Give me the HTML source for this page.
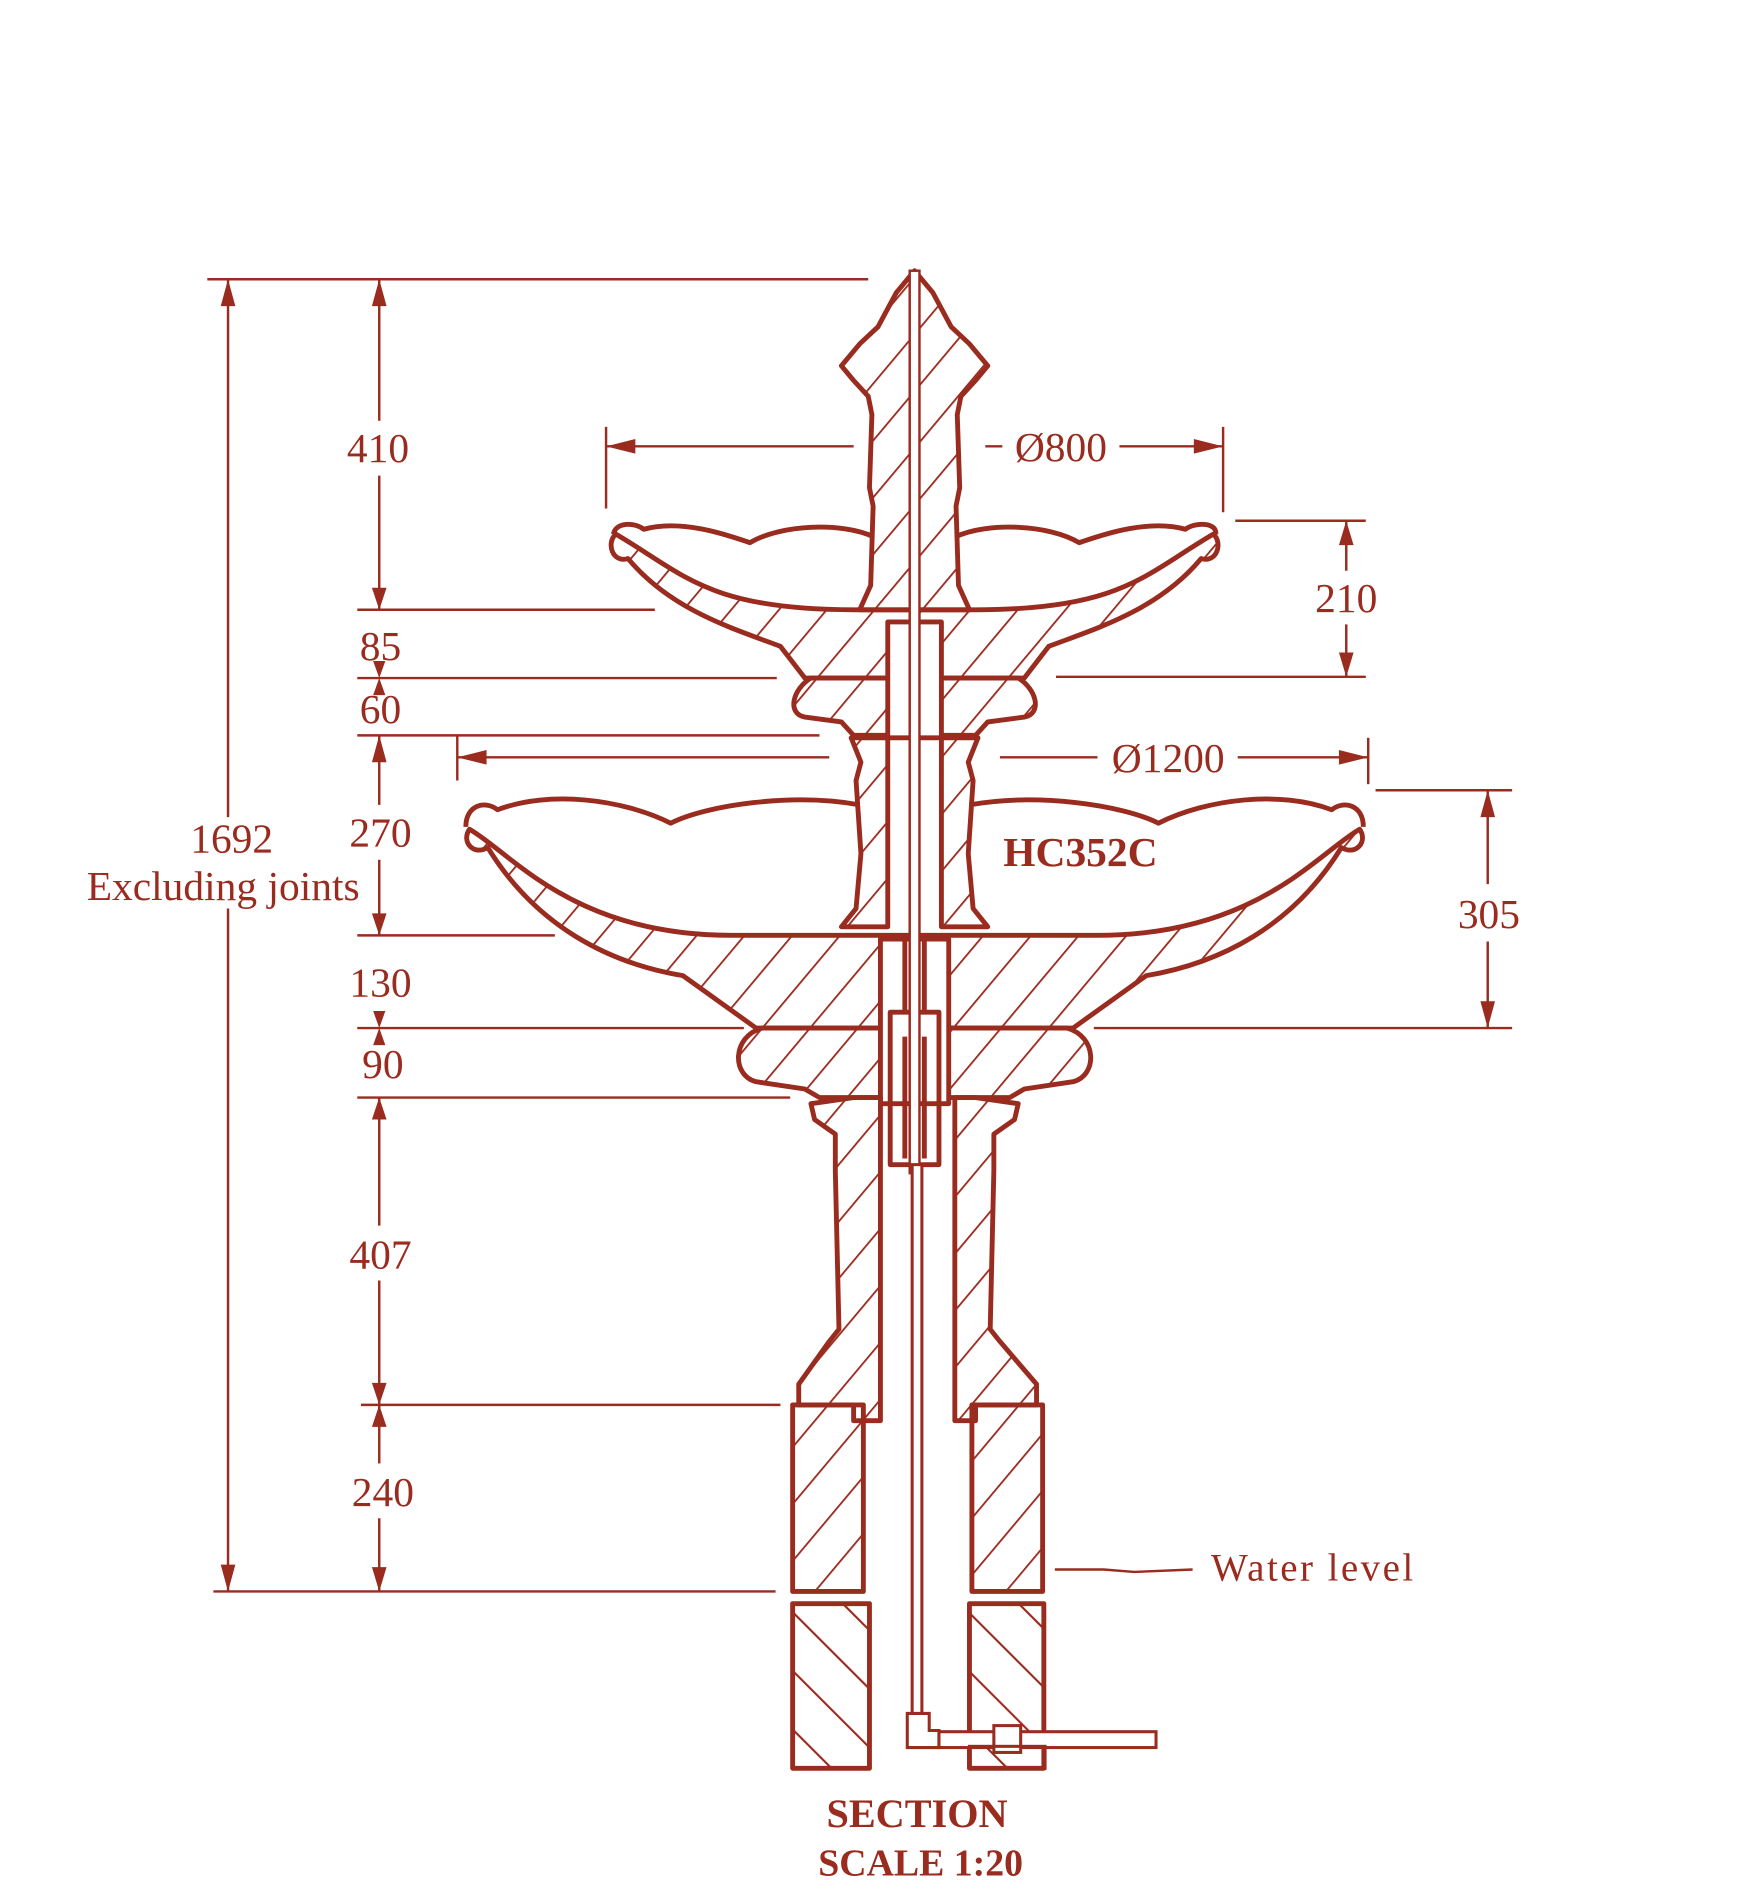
<!DOCTYPE html>
<html><head><meta charset="utf-8"><style>
html,body{margin:0;padding:0;background:#fff}
svg{display:block}
text{font-family:"Liberation Serif",serif;fill:#9a2b1f}
</style></head><body>
<svg width="1756" height="1900" viewBox="0 0 1440 1558" preserveAspectRatio="none" xmlns="http://www.w3.org/2000/svg">
<defs>
<pattern id="h" patternUnits="userSpaceOnUse" width="30" height="30" patternTransform="rotate(40)">
<line x1="0" y1="0" x2="0" y2="30" stroke="#9a2b1f" stroke-width="3"/></pattern>
<pattern id="b" patternUnits="userSpaceOnUse" width="34" height="34" patternTransform="rotate(-45)">
<line x1="0" y1="0" x2="0" y2="34" stroke="#9a2b1f" stroke-width="3.5"/></pattern>
<marker id="a" viewBox="0 0 10 10" refX="10" refY="5" markerWidth="7" markerHeight="7" orient="auto-start-reverse" markerUnits="userSpaceOnUse">
</marker>
</defs>
<g stroke="#9a2b1f" stroke-width="2" fill="none">
<!-- extension lines -->
<line x1="170" y1="229" x2="712" y2="229"/>
<line x1="293" y1="500" x2="537" y2="500"/>
<line x1="293" y1="556" x2="637" y2="556"/>
<line x1="293" y1="603" x2="672" y2="603"/>
<line x1="293" y1="767" x2="455" y2="767"/>
<line x1="293" y1="843" x2="610" y2="843"/>
<line x1="293" y1="900" x2="648" y2="900"/>
<line x1="296" y1="1152" x2="640" y2="1152"/>
<line x1="175" y1="1305" x2="636" y2="1305"/>
<!-- 1692 -->
<line x1="187" y1="229" x2="187" y2="670"/>
<line x1="187" y1="745" x2="187" y2="1305"/>
<!-- col dims -->
<line x1="311" y1="229" x2="311" y2="345"/>
<line x1="311" y1="390" x2="311" y2="500"/>
<line x1="311" y1="603" x2="311" y2="660"/>
<line x1="311" y1="705" x2="311" y2="767"/>
<line x1="311" y1="900" x2="311" y2="1005"/>
<line x1="311" y1="1050" x2="311" y2="1152"/>
<line x1="311" y1="1152" x2="311" y2="1200"/>
<line x1="311" y1="1245" x2="311" y2="1305"/>
<!-- diameters -->
<line x1="497" y1="366" x2="700" y2="366"/>
<line x1="808" y1="366" x2="822" y2="366"/>
<line x1="918" y1="366" x2="1003" y2="366"/>
<line x1="497" y1="350" x2="497" y2="417"/>
<line x1="1003" y1="350" x2="1003" y2="420"/>
<line x1="375" y1="621" x2="680" y2="621"/>
<line x1="820" y1="621" x2="900" y2="621"/>
<line x1="1015" y1="621" x2="1122" y2="621"/>
<line x1="375" y1="603" x2="375" y2="640"/>
<line x1="1122" y1="605" x2="1122" y2="643"/>
<!-- 210 -->
<line x1="1013" y1="427" x2="1120" y2="427"/>
<line x1="866" y1="555" x2="1120" y2="555"/>
<line x1="1104" y1="427" x2="1104" y2="468"/>
<line x1="1104" y1="512" x2="1104" y2="555"/>
<!-- 305 -->
<line x1="1128" y1="648" x2="1240" y2="648"/>
<line x1="897" y1="843" x2="1240" y2="843"/>
<line x1="1220" y1="648" x2="1220" y2="725"/>
<line x1="1220" y1="772" x2="1220" y2="843"/>
<!-- water level -->
<path d="M865,1287 L905,1287 L930,1289 L978,1287"/>
</g>
<g fill="#9a2b1f">
<path d="M187,229 l-6,22 h12z"/><path d="M187,1305 l-6,-22 h12z"/>
<path d="M311,229 l-6,22 h12z"/><path d="M311,500 l-6,-18 h12z"/>
<path d="M311,556 l-5,-14 h10z"/><path d="M311,556 l-5,14 h10z"/>
<path d="M311,603 l-6,22 h12z"/><path d="M311,767 l-6,-18 h12z"/>
<path d="M311,843 l-5,-14 h10z"/><path d="M311,843 l-5,14 h10z"/>
<path d="M311,900 l-6,18 h12z"/><path d="M311,1152 l-6,-18 h12z"/>
<path d="M311,1152 l-6,18 h12z"/><path d="M311,1305 l-6,-20 h12z"/>
<path d="M497,366 l24,-6 v12z"/><path d="M1003,366 l-24,-6 v12z"/>
<path d="M375,621 l24,-6 v12z"/><path d="M1122,621 l-24,-6 v12z"/>
<path d="M1104,427 l-6,20 h12z"/><path d="M1104,555 l-6,-20 h12z"/>
<path d="M1220,648 l-6,22 h12z"/><path d="M1220,843 l-6,-22 h12z"/>
</g>
<g font-size="34" text-anchor="middle">
<text x="310" y="379">410</text>
<text x="312" y="541">85</text>
<text x="312" y="593">60</text>
<text x="312" y="694">270</text>
<text x="312" y="817">130</text>
<text x="314" y="884">90</text>
<text x="312" y="1040">407</text>
<text x="314" y="1235">240</text>
<text x="190" y="699">1692</text>
<text x="183" y="738">Excluding joints</text>
<text x="1104" y="502">210</text>
<text x="1221" y="761">305</text>
<text x="870" y="378">Ø800</text>
<text x="958" y="633">Ø1200</text>
<text x="886" y="710" font-weight="bold">HC352C</text>
<text x="1077" y="1296" font-size="32" letter-spacing="2">Water level</text>
<text x="752" y="1498" font-weight="bold" font-size="33">SECTION</text>
<text x="755" y="1538" font-weight="bold" font-size="31">SCALE 1:20</text>
</g>
<!-- fountain -->
<g stroke="#9a2b1f" stroke-width="4" stroke-linejoin="round">
<!-- top bowl -->
<path fill="url(#h)" d="M505,438 C560,470 580,500 700,500 L800,500 C920,500 940,470 995,438 C1003,445 998,462 985,458 C950,500 900,515 860,530 L840,556 L660,556 L640,530 C600,515 550,500 515,458 C502,462 497,445 505,438 Z"/>
<path fill="none" d="M503,438 C505,428 520,428 528,434 C560,425 600,440 615,445 C640,430 690,428 716,440 M784,440 C810,428 860,430 885,445 C900,440 940,425 972,434 C980,428 998,428 997,438"/>
<!-- finial -->
<path fill="url(#h)" d="M750,222 L735,240 720,268 705,282 690,300 700,312 712,325 715,340 713,400 716,415 714,480 705,500 L795,500 786,480 784,415 787,400 785,340 788,325 800,312 810,300 795,282 780,268 765,240 Z"/>
<!-- upper collar -->
<path fill="url(#h)" d="M665,556 C650,565 645,585 660,588 L690,592 L700,603 L800,603 L810,592 L840,588 C855,585 850,565 835,556 Z"/>
<rect fill="#fff" x="728" y="510" width="44" height="95"/>
<!-- middle column -->
<path fill="url(#h)" d="M698,605 L728,605 L728,760 L690,760 L702,745 L706,700 L702,640 L706,625 Z"/>
<path fill="url(#h)" d="M802,605 L772,605 L772,760 L810,760 L798,745 L794,700 L798,640 L794,625 Z"/>
<!-- lower bowl -->
<path fill="url(#h)" d="M385,680 C420,700 470,767 600,767 L900,767 C1030,767 1080,700 1115,680 C1122,690 1112,702 1100,695 C1060,760 1000,790 940,800 L880,843 L620,843 L560,800 C500,790 440,760 400,695 C388,702 378,690 385,680 Z"/>
<path fill="none" d="M382,678 C382,660 398,656 408,664 C450,648 510,655 550,675 C580,660 650,650 705,660 M795,660 C850,650 920,660 950,675 C990,655 1050,648 1092,664 C1102,656 1118,660 1118,678"/>
<!-- lower collar -->
<path fill="url(#h)" d="M625,843 C600,850 600,882 620,887 L660,893 L672,900 L828,900 L840,893 L880,887 C900,882 900,850 875,843 Z"/>
<rect fill="#fff" x="722" y="770" width="56" height="135"/>
<path fill="none" d="M722,770 h20 v60 M778,770 h-20 v60 M730,830 h40 v125 h-40 z M742,850 v100 M758,850 v100"/>
<!-- pedestal -->
<path fill="url(#h)" d="M665,905 L700,900 L722,900 L722,1165 L700,1165 L700,1152 L655,1152 L655,1135 L680,1100 L688,1090 L685,960 L685,930 L668,918 Z"/>
<path fill="url(#h)" d="M835,905 L800,900 L783,900 L783,1165 L800,1165 L800,1152 L850,1152 L850,1135 L820,1100 L812,1090 L815,960 L815,930 L832,918 Z"/>
<!-- base -->
<rect fill="url(#h)" x="650" y="1152" width="58" height="153"/>
<rect fill="url(#h)" x="797" y="1152" width="58" height="153"/>
<rect fill="url(#b)" x="650" y="1315" width="63" height="135"/>
<rect fill="url(#b)" x="795" y="1315" width="61" height="135"/>
</g>
<!-- pipe -->
<g stroke="#9a2b1f" stroke-width="2.5" fill="#fff">
<rect x="746" y="222" width="8" height="740" stroke-width="2"/>
<rect x="748" y="955" width="8" height="455"/>
<path d="M744,1405 h18 v14 h8 v14 h-26 z"/>
<rect x="770" y="1420" width="178" height="13"/>
<rect x="815" y="1415" width="22" height="22"/>
<rect x="795" y="1432" width="62" height="18" fill="none"/>
</g>
</svg>
</body></html>
